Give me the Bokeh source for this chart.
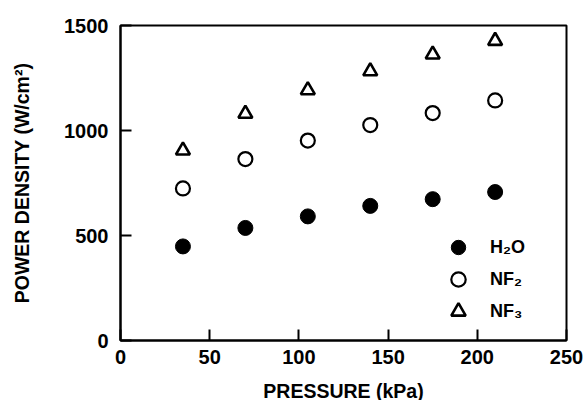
from bokeh.plotting import figure
from bokeh.models import FixedTicker, Legend, LegendItem, Range1d
from bokeh.embed import file_html
from bokeh.resources import INLINE

pressure = [35, 70, 105, 140, 175, 210]
h2o = [448, 536, 591, 641, 673, 707]
nf2 = [724, 864, 952, 1026, 1083, 1143]
nf3 = [905, 1080, 1192, 1282, 1362, 1427]
labels = ["H\u2082O", "NF\u2082", "NF\u2083"]
x_ticks = [0, 50, 100, 150, 200, 250]
y_ticks = [0, 500, 1000, 1500]

FONT = "Liberation Sans"

p = figure(width=587, height=400, output_backend="svg", toolbar_location=None,
           x_range=Range1d(0, 250), y_range=Range1d(0, 1500),
           min_border_left=120, min_border_right=21, min_border_top=25, min_border_bottom=60)
p.frame_width = 446
p.frame_height = 315
p.grid.visible = False
p.outline_line_color = "black"
p.outline_line_width = 2
p.background_fill_color = "white"
p.border_fill_color = "white"

for ax in (p.xaxis[0], p.yaxis[0]):
    ax.axis_line_width = 2
    ax.axis_line_color = "black"
    ax.major_tick_in = 11
    ax.major_tick_out = 0
    ax.major_tick_line_width = 2
    ax.minor_tick_line_color = None
    ax.major_label_text_font = FONT
    ax.major_label_text_font_size = "20px"
    ax.major_label_text_font_style = "bold"
    ax.major_label_text_color = "black"
    ax.axis_label_text_font = FONT
    ax.axis_label_text_font_size = "19.5px"
    ax.axis_label_text_font_style = "bold"
    ax.axis_label_text_color = "black"

p.xaxis.ticker = FixedTicker(ticks=x_ticks)
p.yaxis.ticker = FixedTicker(ticks=y_ticks)
p.xaxis.axis_label = "PRESSURE (kPa)"
p.yaxis.axis_label = "POWER DENSITY (W/cm\u00b2)"
p.xaxis.major_label_standoff = 9
p.yaxis.major_label_standoff = 12
p.xaxis.axis_label_standoff = 13
p.yaxis.axis_label_standoff = 28

r1 = p.scatter(pressure, h2o, marker="circle", size=15, fill_color="black", line_color="black", line_width=1)
r2 = p.scatter(pressure, nf2, marker="circle", size=14, fill_color="white", line_color="black", line_width=2.2)
r3 = p.scatter(pressure, nf3, marker="triangle", size=14, fill_color="white", line_color="black", line_width=2.6)

# one legend per entry so the entries can sit 32px apart with full-size markers
for lab, rend, y0 in zip(labels, [r1, r2, r3], [75, 43, 11]):
    lg = Legend(items=[LegendItem(label=lab, renderers=[rend])], location=(320, y0))
    lg.padding = 0
    lg.margin = 0
    lg.glyph_width = 36
    lg.glyph_height = 36
    lg.label_height = 20
    lg.label_standoff = 14
    lg.label_text_font = FONT
    lg.label_text_font_size = "18px"
    lg.label_text_font_style = "bold"
    lg.label_text_color = "black"
    lg.border_line_color = None
    lg.background_fill_alpha = 0
    p.add_layout(lg)

open("out.html", "w").write(file_html(p, INLINE))
